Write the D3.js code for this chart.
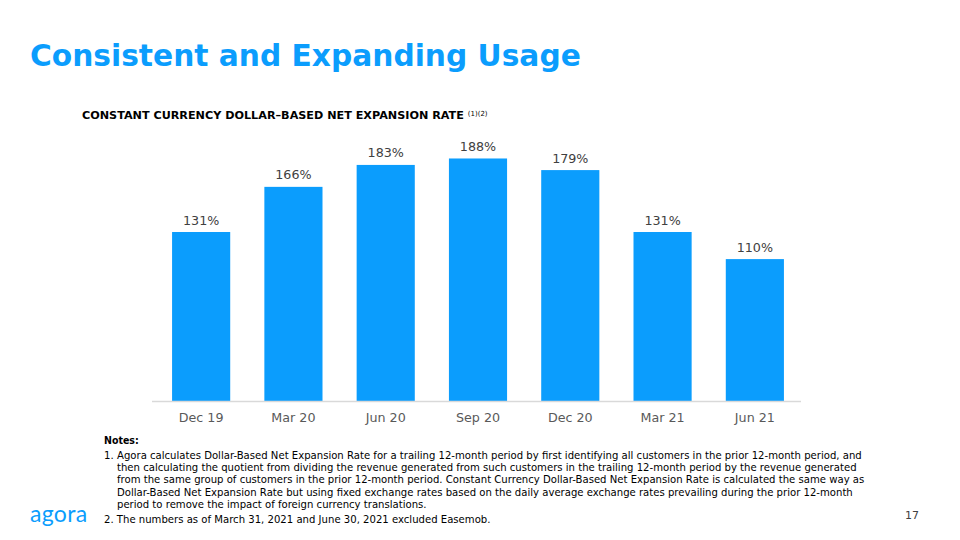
<!DOCTYPE html>
<html><head><meta charset="utf-8">
<script src="https://cdn.jsdelivr.net/npm/d3@7"></script>
<style>body{margin:0;background:#fff}svg{display:block}</style>
</head><body>
<script>
const categories = ["Dec 19","Mar 20","Jun 20","Sep 20","Dec 20","Mar 21","Jun 21"];
const values = [131,166,183,188,179,131,110];
const valueLabels = ["131%","166%","183%","188%","179%","131%","110%"];
const noteLines = [
 "Agora calculates Dollar-Based Net Expansion Rate for a trailing 12-month period by first identifying all customers in the prior 12-month period, and",
 "then calculating the quotient from dividing the revenue generated from such customers in the trailing 12-month period by the revenue generated",
 "from the same group of customers in the prior 12-month period. Constant Currency Dollar-Based Net Expansion Rate is calculated the same way as",
 "Dollar-Based Net Expansion Rate but using fixed exchange rates based on the daily average exchange rates prevailing during the prior 12-month",
 "period to remove the impact of foreign currency translations."
];
const note2 = "The numbers as of March 31, 2021 and June 30, 2021 excluded Easemob.";

const W=960,H=540, blue="#0b9dfd";
const svg=d3.select("body").append("svg").attr("width",W).attr("height",H);

svg.append("text").attr("x",30).attr("y",66).attr("font-family","DejaVu Sans, Verdana").attr("font-weight","bold")
  .attr("font-size",29.7).attr("fill",blue).text("Consistent and Expanding Usage");

const sub=svg.append("text").attr("x",82).attr("y",119).attr("font-family","DejaVu Sans, Verdana").attr("font-weight","bold")
  .attr("font-size",11.2).attr("fill","#000");
sub.append("tspan").text("CONSTANT CURRENCY DOLLAR\u2013BASED NET EXPANSION RATE ");
sub.append("tspan").attr("font-size",7).attr("font-weight","normal").attr("dy",-3).text("(1)(2)");

const x=d3.scaleBand().domain(categories).range([155,801]).paddingInner(0.37).paddingOuter(0.185);
const y=d3.scaleLinear().domain([0,200]).range([401,143]);

svg.append("g").selectAll("rect").data(values).join("rect")
  .attr("x",(d,i)=>x(categories[i])).attr("width",x.bandwidth())
  .attr("y",d=>y(d)).attr("height",d=>y(0)-y(d)).attr("fill",blue);

svg.append("g").selectAll("text").data(values).join("text")
  .attr("x",(d,i)=>x(categories[i])+x.bandwidth()/2).attr("y",d=>y(d)-7.5)
  .attr("text-anchor","middle").attr("font-family","DejaVu Sans, Verdana").attr("font-size",12.7)
  .attr("fill","#404040").text((d,i)=>valueLabels[i]);

const ax=svg.append("g").attr("transform","translate(0,401)")
  .call(d3.axisBottom(x).tickSize(0).tickPadding(11.5));
ax.select(".domain").attr("stroke","#d9d9d9").attr("stroke-width",1.5).attr("d","M152,0.5H801");
ax.selectAll("text").attr("font-family","DejaVu Sans, Verdana").attr("font-size",12.7).attr("fill","#595959");

const nf="DejaVu Sans, Tahoma";
const ns=10.1;
svg.append("text").attr("x",104).attr("y",444).attr("font-family","DejaVu Sans Condensed, Tahoma").attr("font-weight","bold")
  .attr("font-size",10.5).attr("fill","#000").text("Notes:");
svg.append("text").attr("x",104).attr("y",459).attr("font-family",nf).attr("font-size",ns).attr("fill","#000").text("1.");
svg.append("g").selectAll("text").data(noteLines).join("text")
  .attr("x",117).attr("y",(d,i)=>459+i*12.2).attr("font-family",nf).attr("font-size",ns).attr("fill","#000").text(d=>d);
svg.append("text").attr("x",104).attr("y",523).attr("font-family",nf).attr("font-size",ns).attr("fill","#000").text("2. "+note2);

svg.append("text").attr("x",30).attr("y",522).attr("font-family","Lato, sans-serif").attr("font-weight","normal")
  .attr("font-size",23).attr("fill",blue).attr("letter-spacing",0.3).text("agora");
svg.append("text").attr("x",919).attr("y",519).attr("text-anchor","end").attr("font-family","DejaVu Sans, Verdana")
  .attr("font-size",11).attr("fill","#404040").text("17");
</script>
</body></html>
